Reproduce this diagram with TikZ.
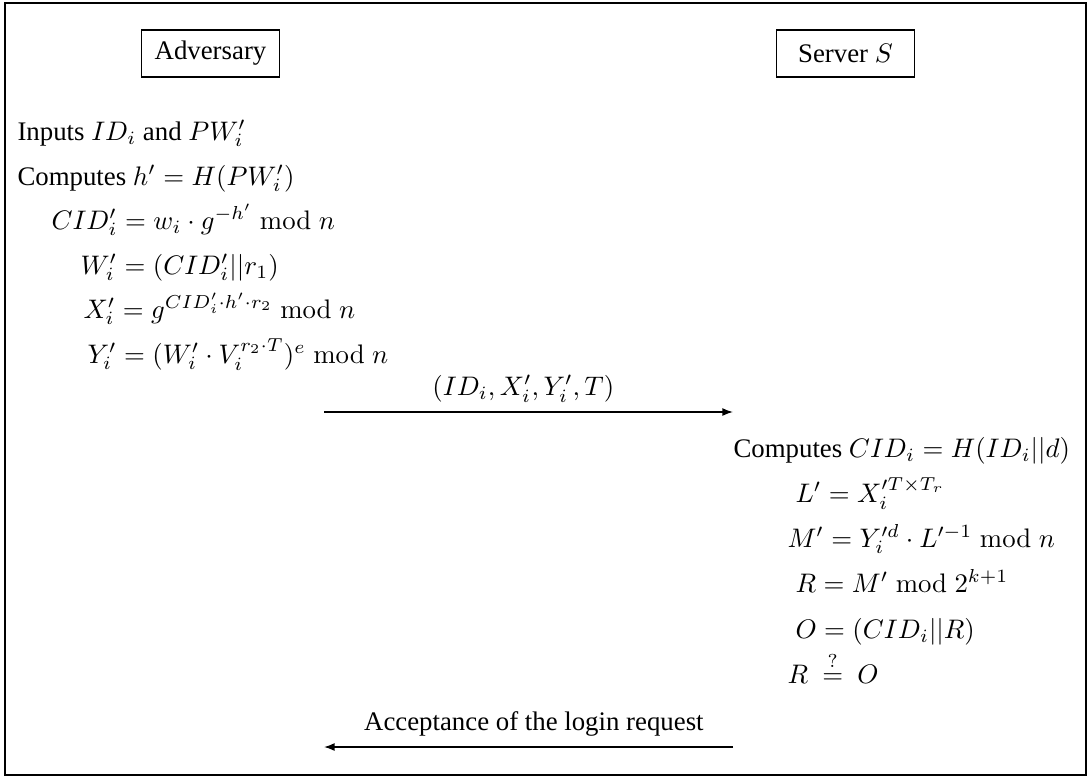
\documentclass[tikz,border=0pt]{standalone}
\usepackage{amsmath}
\usepackage[no-math]{fontspec}
\setmainfont{Liberation Serif}
\usepackage{tikz}
\usetikzlibrary{
  positioning,
  arrows.meta
}
\tikzset{
  >=Latex,
  msgarrow/.style={-{Latex[length=4pt,width=3pt]},line width=0.55pt},
  msglabel/.style={anchor=base,yshift=6.2pt,inner sep=0pt},
  party/.style={rectangle,draw,line width=0.5pt,minimum width=51.5pt,minimum height=17.5pt,inner sep=2pt},
  calcline/.style={anchor=base west,inner sep=0pt}
}

\begin{document}
\begin{tikzpicture}[x=0.373pt,y=-0.373pt]
    \useasboundingbox (0,0) rectangle (1089,777);
    \draw[line width=0.75pt] (5,3) rectangle (1086,775);

    \node[party] (adv) at (210.5,53.5) {Adversary};
    \node[party] (srv) at (845.5,53.5) {Server $S$};

    \foreach \x/\y/\txt/\id in {17/140/{Inputs $ID_i$ and $PW_i'$}/a,
                                17/185/{Computes $h' = H(PW_i')$}/b,
                                51/229/{$CID_i' = w_i \cdot g^{-h'} \bmod n$}/c,
                                80/274/{$W_i' = (CID_i'||r_1)$}/d,
                                83/318/{$X_i' = g^{CID_i' \cdot h' \cdot r_2} \bmod n$}/e,
                                87/363/{$Y_i' = (W_i' \cdot V_i^{r_2 \cdot T})^e \bmod n$}/f}
        \node[calcline] (adv\id) at (\x,\y) {\txt};

    \foreach \x/\y/\txt/\id in {733/457/{Computes $CID_i = H(ID_i||d)$}/a,
                                795/502/{$L' = X_i^{\prime T \times T_r}$}/b,
                                787/547/{$M' = Y_i^{\prime d} \cdot L^{\prime -1} \bmod n$}/c,
                                795/592/{$R = M' \bmod 2^{k+1}$}/d,
                                795/638/{$O = (CID_i||R)$}/e,
                                787/683/{$R \ \stackrel{?}{=} \ O$}/f}
        \node[calcline] (srv\id) at (\x,\y) {\txt};

    \coordinate (loginA) at (324,412);
    \coordinate (loginS) at (733,412);
    \coordinate (acceptS) at (733,747);
    \coordinate (acceptA) at (324,747);

    \draw[msgarrow] (loginA) -- node[msglabel,xshift=-1.9pt]{$(ID_i, X_i', Y_i', T)$} (loginS);
    \draw[msgarrow] (acceptS) -- node[msglabel,xshift=2pt]{Acceptance of the login request} (acceptA);
\end{tikzpicture}
\end{document}
